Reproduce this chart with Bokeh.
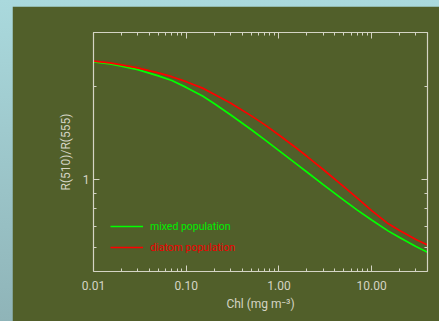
from bokeh.plotting import figure
from bokeh.models import (LogAxis, FixedTicker, Legend, LegendItem, ColumnDataSource)
from bokeh.layouts import column
from bokeh.embed import file_html
from bokeh.resources import INLINE

# ---- data ----
chl = [0.01, 0.015, 0.02, 0.03, 0.05, 0.07, 0.1, 0.15, 0.2, 0.3, 0.5, 0.7,
       1.0, 1.5, 2.0, 3.0, 5.0, 7.0, 10.0, 15.0, 20.0, 30.0, 40.0]
ratio_mixed = [2.406, 2.372, 2.332, 2.272, 2.168, 2.093, 1.988, 1.863, 1.761, 1.620,
               1.450, 1.344, 1.238, 1.127, 1.054, 0.959, 0.854, 0.792, 0.736, 0.678,
               0.645, 0.603, 0.578]
ratio_diatom = [2.419, 2.389, 2.353, 2.301, 2.216, 2.154, 2.075, 1.977, 1.890, 1.768,
                1.609, 1.504, 1.391, 1.269, 1.186, 1.074, 0.945, 0.867, 0.789, 0.716,
                0.680, 0.636, 0.610]
x_major = [0.01, 0.1, 1, 10]
x_minor = [m * d for d in [0.01, 0.1, 1, 10] for m in range(2, 10) if m * d <= 40]
x_labels = {0.01: "0.01", 0.1: "0.10", 1: "1.00", 10: "10.00"}
y_major = [1]
y_minor = [0.6, 0.7, 0.8, 0.9, 2, 3]
y_labels = {1: "1"}
series_names = ["mixed population", "diatom population"]

BG = "#515f2a"
FG = "#d4d4c4"
FONT = "Roboto"

src = ColumnDataSource(dict(x=chl, mixed=ratio_mixed, diatom=ratio_diatom))

p = figure(width=427, height=315, x_axis_type="log", y_axis_type="log",
           x_range=(0.01, 40), y_range=(0.5, 3.0),
           output_backend="svg", toolbar_location=None,
           min_border_left=81, min_border_right=12, min_border_top=26, min_border_bottom=50)
p.margin = (6, 0, 0, 12)
p.background_fill_color = BG
p.border_fill_color = BG
p.outline_line_color = None
p.grid.visible = False

r_mixed = p.line("x", "mixed", source=src, line_color="#00ff00", line_width=1.7)
r_diatom = p.line("x", "diatom", source=src, line_color="#ff0000", line_width=1.7)

def style_axis(ax, ticks, minor, labels, show_labels):
    ax.ticker = FixedTicker(ticks=ticks, minor_ticks=minor)
    ax.axis_line_color = FG
    ax.axis_line_width = 1.2
    ax.major_tick_line_color = FG
    ax.minor_tick_line_color = FG
    ax.major_tick_in = 6
    ax.major_tick_out = 0
    ax.minor_tick_in = 3
    ax.minor_tick_out = 0
    ax.major_label_text_font = FONT
    ax.major_label_text_font_size = "12px"
    ax.major_label_text_color = FG
    ax.axis_label_text_font = FONT
    ax.axis_label_text_font_size = "12px"
    ax.axis_label_text_font_style = "normal"
    ax.axis_label_text_color = FG
    if show_labels:
        ax.major_label_overrides = labels
    else:
        ax.major_label_overrides = {t: "" for t in ticks}
        ax.major_label_text_color = None
        ax.major_label_standoff = 0

xa = p.xaxis[0]
style_axis(xa, x_major, x_minor, x_labels, True)
xa.axis_label = "Chl (mg m\u207B\u00B3)"
xa.major_label_standoff = 9
xa.axis_label_standoff = 4

ya = p.yaxis[0]
style_axis(ya, y_major, y_minor, y_labels, True)
ya.axis_label = "R(510)/R(555)"
ya.major_label_standoff = 4
ya.axis_label_standoff = 7

top = LogAxis()
style_axis(top, x_major, x_minor, x_labels, False)
p.add_layout(top, "above")
right = LogAxis()
style_axis(right, y_major, y_minor, y_labels, False)
p.add_layout(right, "right")

for r, name, col, yloc in [(r_mixed, series_names[0], "#00ee00", 37),
                           (r_diatom, series_names[1], "#ee0000", 16)]:
    lg = Legend(items=[LegendItem(label=name, renderers=[r])], location=(17, yloc),
                padding=0, margin=0, spacing=0,
                glyph_width=33, glyph_height=16, label_height=16, label_standoff=7,
                label_text_font=FONT, label_text_font_size="10.5px", label_text_color=col,
                background_fill_alpha=0, border_line_alpha=0)
    p.add_layout(lg, "center")

layout = column(p, styles={"background": "linear-gradient(#aad9dd, #8fb4b8)"},
                width=439, height=321)
open("out.html", "w").write(file_html(layout, INLINE))
